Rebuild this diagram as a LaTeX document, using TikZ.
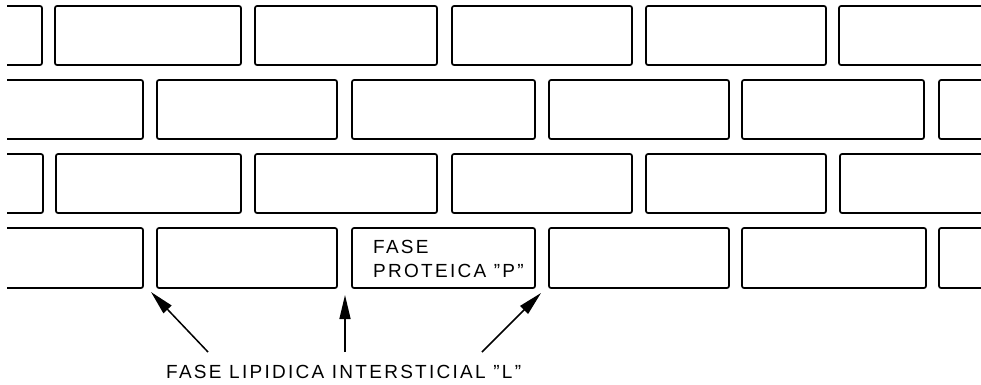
\documentclass[tikz,border=0pt]{standalone}
\usepackage{fontspec}
\setmainfont{Liberation Sans}
\newfontfamily\labfont[LetterSpace=12]{Liberation Sans}
\usetikzlibrary{arrows.meta}
\tikzset{
  x=1pt, y=-1pt,
  wall/.style={line width=1.7pt, rounded corners=2pt},
  brick/.style={draw, line width=1.7pt, rounded corners=2pt, inner sep=0pt, minimum height=59pt},
  arr/.style={line width=1.5pt, -{Triangle[length=24pt,width=11pt]}},
  lbl/.style={font=\labfont\fontsize{19}{24}\selectfont, inner sep=0pt, align=left}
}
\begin{document}
\begin{tikzpicture}
\useasboundingbox (0,0) rectangle (981,384);
% row 1 (y 6-65)
\draw[wall] (7,6) -- (42,6) -- (42,65) -- (7,65);
\node[brick, minimum width=186pt] (r1b2) at (148,35.5) {};
\node[brick, minimum width=182pt] (r1b3) at (346,35.5) {};
\node[brick, minimum width=180pt] (r1b4) at (542,35.5) {};
\node[brick, minimum width=180pt] (r1b5) at (736,35.5) {};
\draw[wall] (981,6) -- (839,6) -- (839,65) -- (981,65);
% row 2 (y 80-139)
\draw[wall] (7,80) -- (143,80) -- (143,139) -- (7,139);
\node[brick, minimum width=180pt] (r2b2) at (247,109.5) {};
\node[brick, minimum width=183pt] (r2b3) at (443.5,109.5) {};
\node[brick, minimum width=180pt] (r2b4) at (639,109.5) {};
\node[brick, minimum width=182pt] (r2b5) at (833,109.5) {};
\draw[wall] (981,80) -- (939,80) -- (939,139) -- (981,139);
% row 3 (y 154-213)
\draw[wall] (7,154) -- (43,154) -- (43,213) -- (7,213);
\node[brick, minimum width=185pt] (r3b2) at (148.5,183.5) {};
\node[brick, minimum width=182pt] (r3b3) at (346,183.5) {};
\node[brick, minimum width=180pt] (r3b4) at (542,183.5) {};
\node[brick, minimum width=180pt] (r3b5) at (736,183.5) {};
\draw[wall] (981,154) -- (840,154) -- (840,213) -- (981,213);
% row 4 (y 228-288)
\draw[wall] (7,228) -- (143,228) -- (143,288) -- (7,288);
\node[brick, minimum width=180pt, minimum height=60pt] (r4b2) at (247,258) {};
\node[brick, minimum width=183pt, minimum height=60pt] (r4b3) at (443.5,258) {};
\node[brick, minimum width=180pt, minimum height=60pt] (r4b4) at (639,258) {};
\node[brick, minimum width=184pt, minimum height=60pt] (r4b5) at (834,258) {};
\draw[wall] (981,228) -- (939,228) -- (939,288) -- (981,288);
% text in protein brick
\node[lbl, anchor=base west] (ptext) at (373,277) {FASE\\PROTEICA ”P”};
% label
\node[lbl, anchor=base west] (lab) at (166,378) {FASE LIPIDICA INTERSTICIAL ”L”};
% arrows
\coordinate (s1) at (208,352);
\coordinate (t1) at (151,292);
\coordinate (s2) at (345,352);
\coordinate (t2) at (345,295);
\coordinate (s3) at (482,352);
\coordinate (t3) at (541,293);
\draw[arr] (s1) -- (t1);
\draw[arr] (s2) -- (t2);
\draw[arr] (s3) -- (t3);
\end{tikzpicture}
\end{document}
